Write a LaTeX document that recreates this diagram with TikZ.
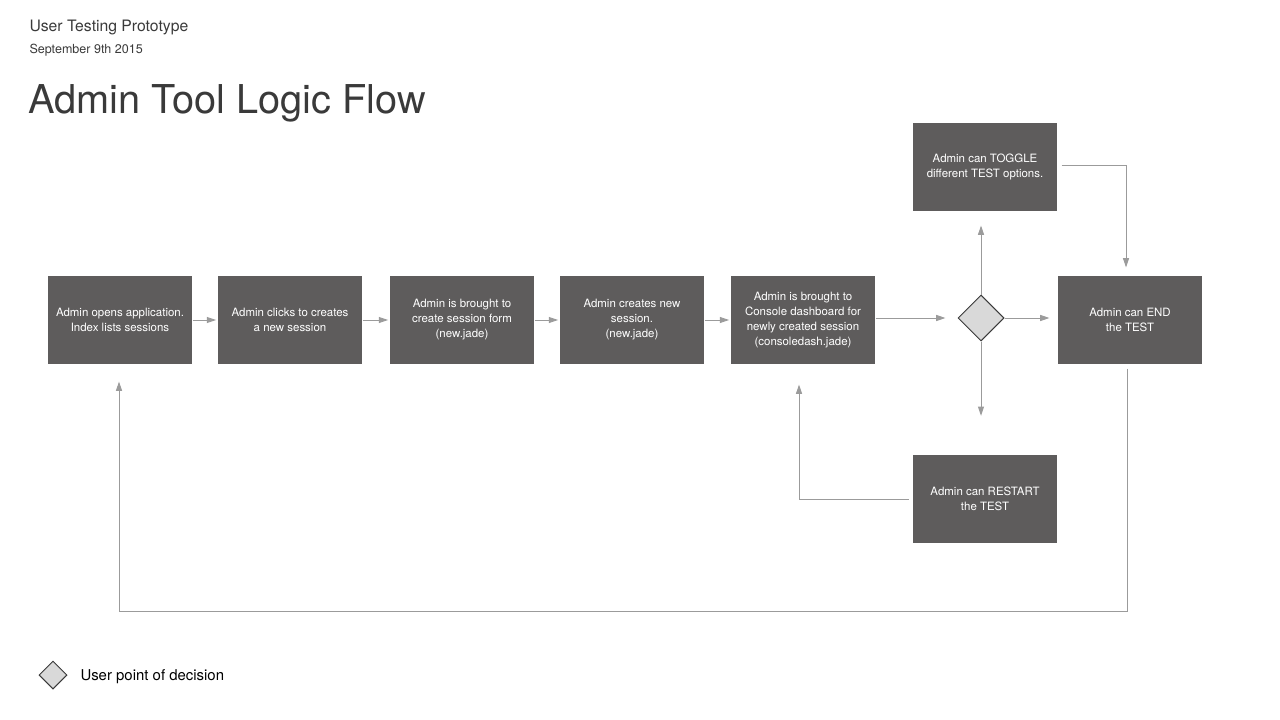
\documentclass[tikz,border=0pt]{standalone}
\usepackage{fontspec}
\setmainfont{TeX Gyre Heros}
\usetikzlibrary{arrows.meta,shapes.geometric}

\definecolor{boxgray}{RGB}{94,92,92}
\definecolor{linegray}{RGB}{155,155,155}
\definecolor{inkgray}{RGB}{58,58,58}
\definecolor{decfill}{RGB}{217,217,217}

\tikzset{every picture/.style={line width=0.75pt}}
\tikzset{
  stepbox/.style={fill=boxgray, text=white, minimum width=108pt, minimum height=66pt,
    inner sep=0.75pt, align=center, font=\fontsize{8.6}{11.25}\selectfont},
  decision/.style={diamond, aspect=1, draw=inkgray, fill=decfill, inner sep=0pt, minimum size=34.5pt},
  flow/.style={draw=linegray, -{Triangle[length=7pt,width=4.5pt]}},
}

\begin{document}
\begin{tikzpicture}[x=0.75pt,y=0.75pt,yscale=-1,xscale=1]
\useasboundingbox (0,0) rectangle (1280,720);

% Text Node
\draw (28,32) node (subject) [anchor=base west][inner sep=0.75pt] [text=inkgray] {\fontsize{11.8}{14}\selectfont User Testing Prototype};
% Text Node
\draw (28,54) node (date) [anchor=base west][inner sep=0.75pt] [text=inkgray] {\fontsize{9.4}{11}\selectfont September 9th 2015};
% Text Node
\draw (27,114) node (title) [anchor=base west][inner sep=0.75pt] [text=inkgray] {\fontsize{29.8}{34}\selectfont Admin Tool Logic Flow};

%Shape: Rectangle
\node [stepbox] (adm1) at (120,320) {Admin opens application.\\Index lists sessions};
%Shape: Rectangle
\node [stepbox] (adm2) at (290,320) {Admin clicks to creates\\a new session};
%Shape: Rectangle
\node [stepbox] (adm3) at (462,320) {Admin is brought to\\create session form\\(new.jade)};
%Shape: Rectangle
\node [stepbox] (adm4) at (632,320) {Admin creates new\\session.\\(new.jade)};
%Shape: Rectangle
\node [stepbox] (adm5) at (803,320) {Admin is brought to\\Console dashboard for\\newly created session\\(consoledash.jade)};
%Shape: Diamond
\node [decision] (dec) at (981,318) {};
%Shape: Rectangle
\node [stepbox] (endt) at (1130,320) {Admin can END\\the TEST};
%Shape: Rectangle
\node [stepbox] (toggle) at (985,167) {Admin can TOGGLE\\different TEST options.};
%Shape: Rectangle
\node [stepbox] (restart) at (985,499) {Admin can RESTART\\the TEST};

%Straight Lines
\draw [flow, shorten >=1pt]  (adm1) -- (adm2) ;
\draw [flow, shorten >=1pt]  (adm2) -- (adm3) ;
\draw [flow, shorten >=1pt]  (adm3) -- (adm4) ;
\draw [flow, shorten >=1pt]  (adm4) -- (adm5) ;
\draw [flow, shorten >=9pt]  (adm5.east |- dec.west) -- (dec.west) ;
\draw [flow, shorten >=6pt]  (dec.east) -- (dec.east -| endt.west) ;
\draw [flow, shorten >=10.5pt]  (dec.north) -- (dec.north |- toggle.south) ;
\draw [flow, shorten >=29pt]  (dec.south) -- (dec.south |- restart.north) ;
%Elbow Lines
\draw [flow, shorten <=3pt, shorten >=6pt]  (toggle.east) ++(0,-1) -| ([xshift=-3]endt.north) ;
\coordinate (loop) at (119,611) ;
\draw [flow, shorten <=3pt, shorten >=12.75pt]  ([xshift=-2]endt.south) |- (loop) -- (loop |- adm1.south) ;
\draw [flow, shorten <=3pt, shorten >=15pt]  (restart.west) -| ([xshift=-3]adm5.south) ;

%Shape: Diamond
\node [decision, minimum size=21pt] (legend) at (53,675) {};
% Text Node
\draw (79,677) node (legendtext) [anchor=west][inner sep=0.75pt] [text=black] {\fontsize{11.2}{13}\selectfont User point of decision};

\end{tikzpicture}
\end{document}
